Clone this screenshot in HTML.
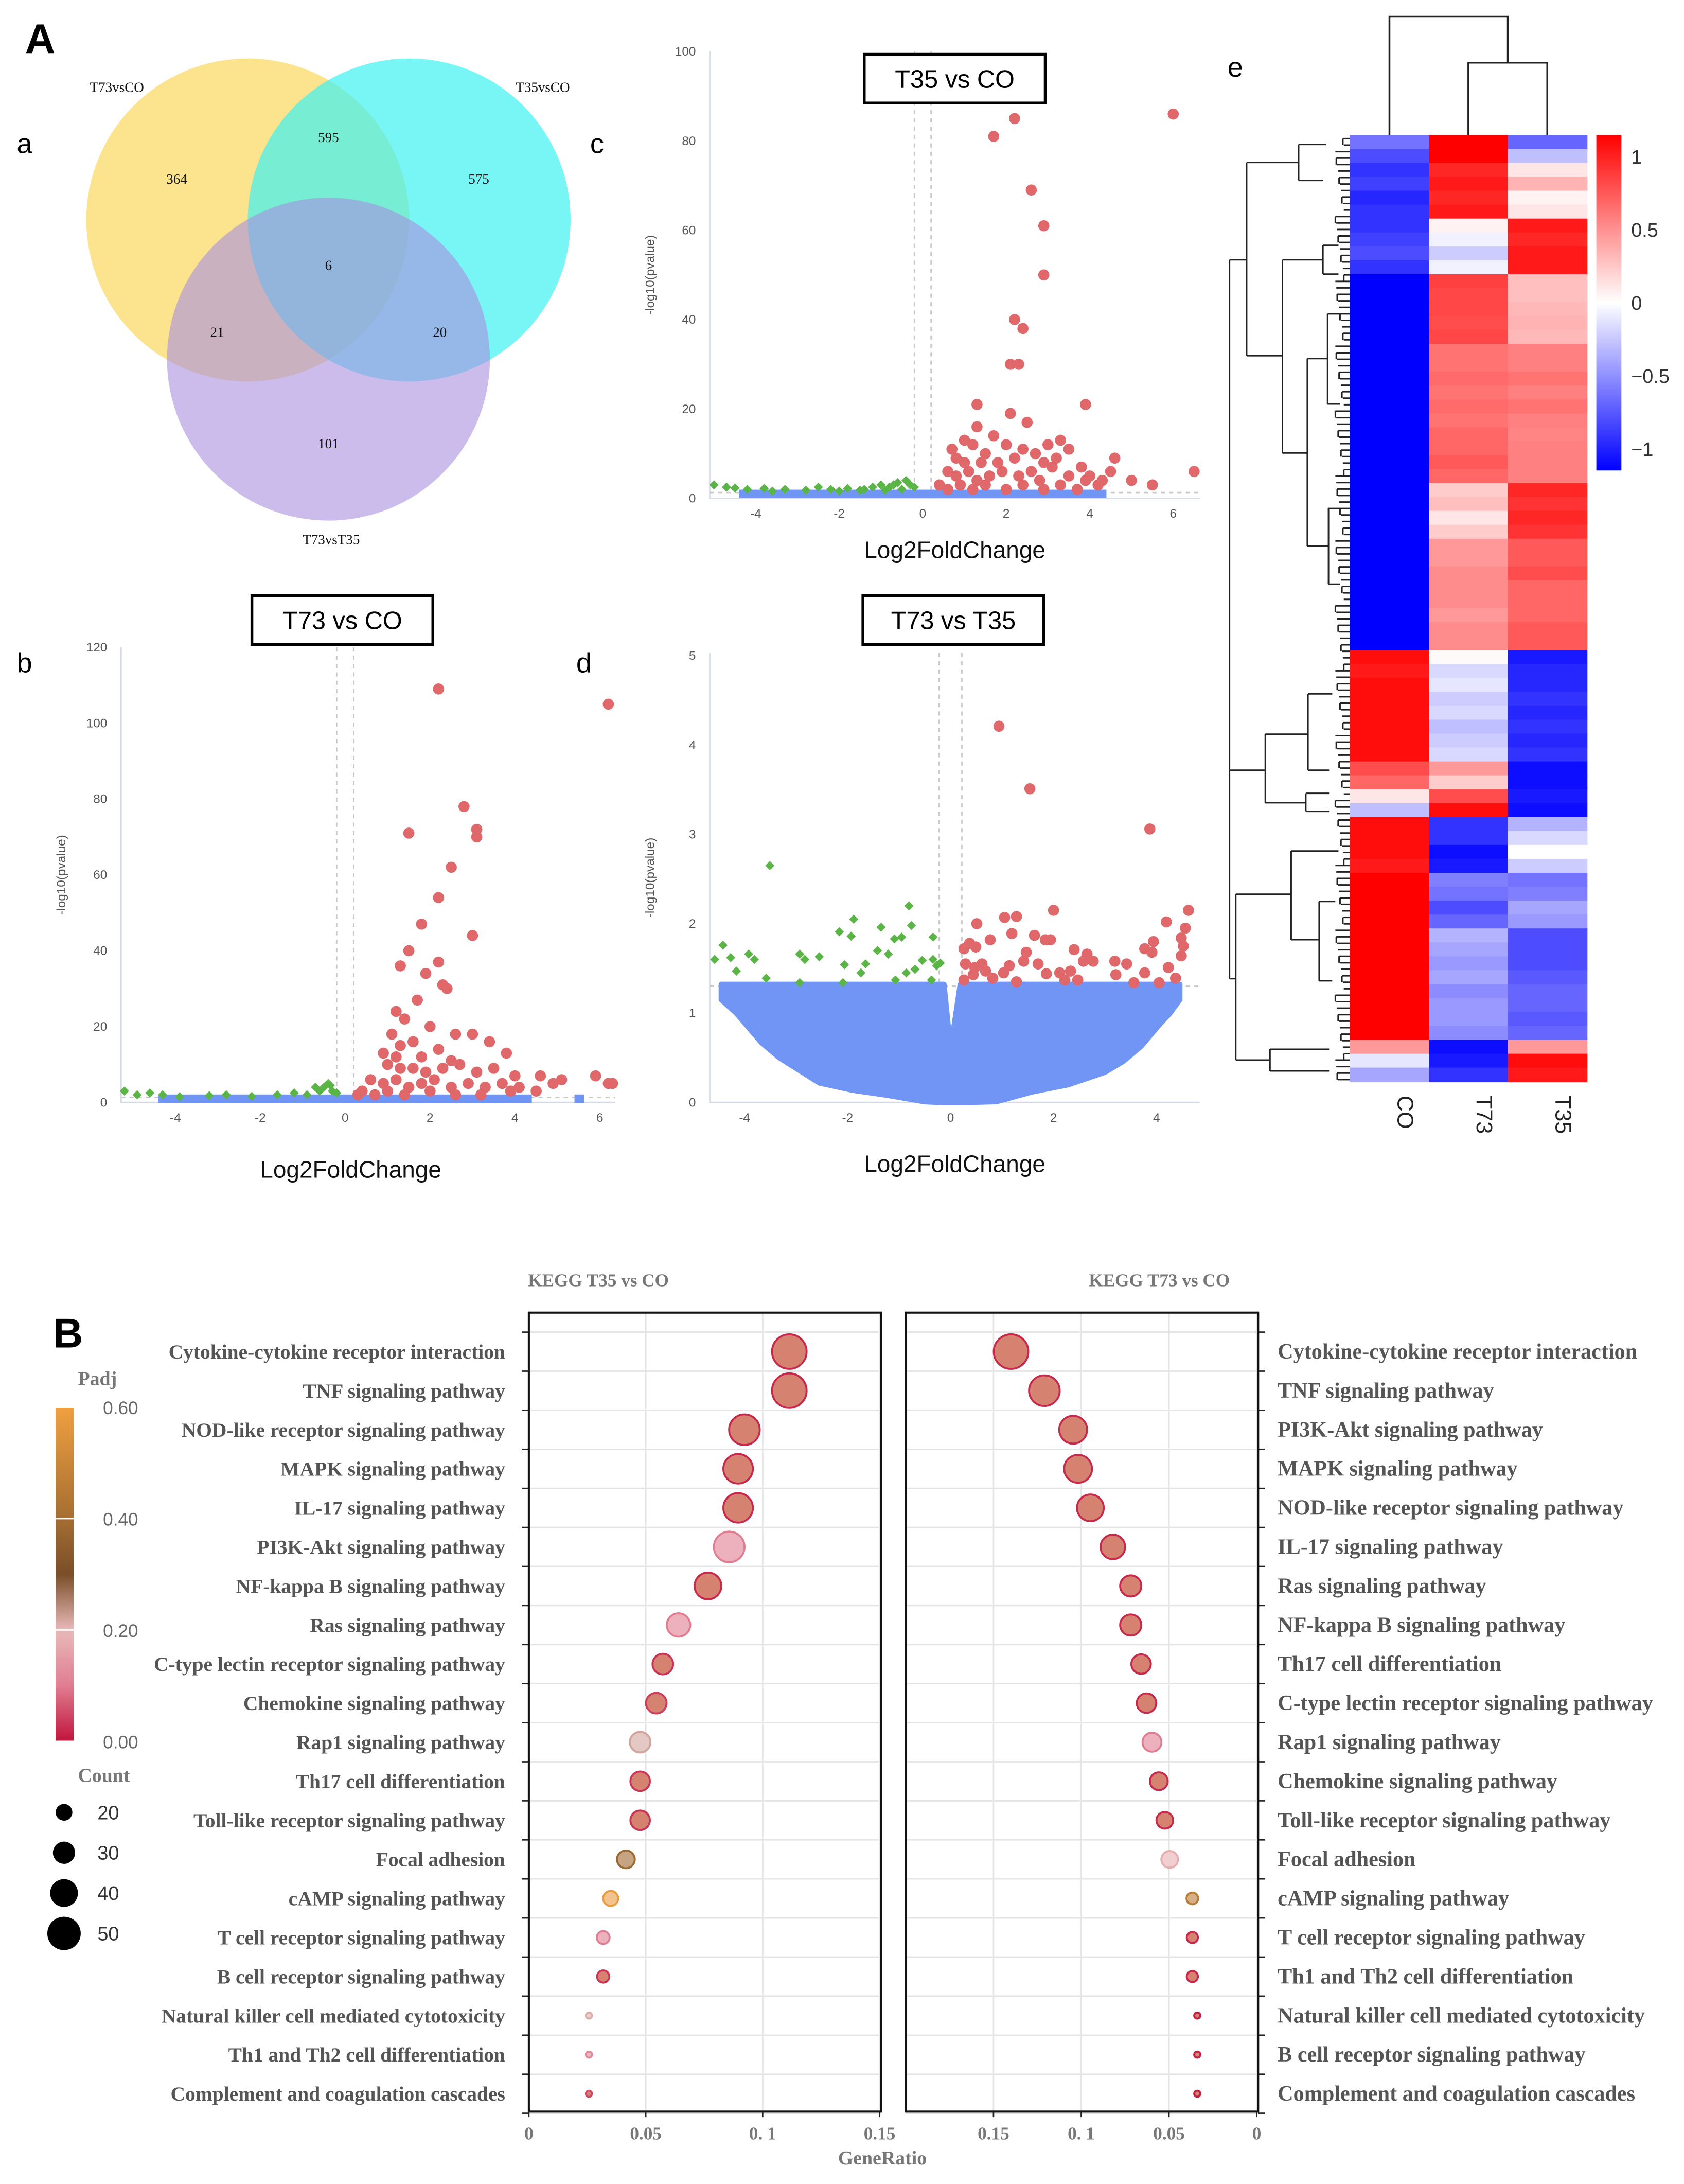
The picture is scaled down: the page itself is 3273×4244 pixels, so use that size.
<!DOCTYPE html>
<html><head><meta charset="utf-8"><style>
html,body{margin:0;padding:0;background:#fff}
svg{display:block}
.sans{font-family:"Liberation Sans",sans-serif}
.serif{font-family:"Liberation Serif",serif}
</style></head><body>
<svg id="fig" width="3273" height="4244" viewBox="0 0 1210 1569" preserveAspectRatio="none" xmlns="http://www.w3.org/2000/svg">
<rect width="1210" height="1569" fill="#fff"/>
<g class="sans" font-weight="bold" fill="#000">
<text x="18" y="38" font-size="30">A</text>
<text x="38" y="968" font-size="30">B</text>
</g>
<g class="sans" fill="#000" font-size="20">
<text x="12" y="110">a</text>
<text x="12" y="483">b</text>
<text x="424" y="110">c</text>
<text x="414" y="483">d</text>
<text x="882" y="55">e</text>
</g>
<!-- Venn -->
<g>
<circle cx="178" cy="158" r="116" fill="#fbd968" fill-opacity="0.75"/>
<circle cx="294" cy="158" r="116" fill="#3ff2f2" fill-opacity="0.7"/>
<circle cx="236" cy="258" r="116" fill="#a88fe0" fill-opacity="0.6"/>
<g class="serif" font-size="10" fill="#111" text-anchor="middle">
<text x="84" y="66">T73vsCO</text>
<text x="390" y="66">T35vsCO</text>
<text x="238" y="391">T73vsT35</text>
<text x="236" y="102">595</text>
<text x="127" y="132">364</text>
<text x="344" y="132">575</text>
<text x="236" y="194">6</text>
<text x="156" y="242">21</text>
<text x="316" y="242">20</text>
<text x="236" y="322">101</text>
</g></g>
<g id="volc"></g>
<g id="heat"></g>
<g id="kegg"></g>
</svg>
<script>
// ---------- Volcano data ----------
const cRedX=[6.0,1.7,2.2,2.6,2.9,2.9,2.2,2.4,2.1,2.3,1.3,3.9,2.5,2.1,1.0,1.2,1.5,0.8,1.0,1.4,1.8,2.2,2.7,3.0,3.3,3.5,1.7,0.6,0.8,1.1,1.3,1.6,1.9,2.3,2.6,2.8,3.1,3.5,3.9,4.2,4.6,4.5,5.0,5.5,6.5,0.4,0.6,0.9,1.2,1.5,2.0,2.4,2.9,3.3,3.7,4.0,4.3,0.7,1.3,2.0,2.4,2.9,3.2,3.8];
const cRedY=[86,81,85,69,61,50,40,38,30,30,21,21,17,19,13,12,10,9,8,8,8,9,10,12,13,11,14,6,5,6,4,5,6,5,6,4,7,5,4,3,9,6,4,3,6,3,2,3,2,3,2,3,2,3,2,5,4,11,16,12,11,8,9,7];
const cGreenX=[-5,-4.7,-4.5,-4.2,-3.8,-3.3,-2.8,-2.5,-2.2,-1.8,-1.5,-1.2,-1,-0.8,-0.6,-0.4,-0.3,-0.2,-0.5,-0.9,-1.4,-3.6,-2,-0.7];
const cGreenY=[3,2.5,2.3,2,2.2,2,1.8,2.5,2,2.2,1.8,2.5,3,2.5,3.5,4,3,2.5,2,1.8,2,1.6,1.6,3];
const cBlueRange=[-4.3,4.3];
const cBlueLevel=[1];

const bRedX=[2.2,6.2,2.8,3.1,3.1,1.5,2.5,2.2,1.8,1.5,1.3,2.2,1.9,2.3,2.4,3.0,1.2,1.4,1.1,1.3,0.9,1.6,1.8,2.2,2.6,3.0,3.4,3.8,1.0,1.3,1.6,1.9,2.3,2.7,3.1,3.5,4.0,0.6,0.9,1.2,1.5,1.8,2.1,2.5,2.9,3.3,3.7,4.1,4.5,4.9,5.1,4.6,5.9,6.2,6.3,0.4,0.7,1.0,1.4,2.0,2.6,3.2,3.9,0.3,1.2,2.0,2.5,1.7];
const bRedY=[109,105,78,72,70,71,62,54,47,40,36,37,34,31,30,44,24,22,18,15,13,16,12,14,18,18,16,13,10,9,9,8,9,10,8,9,7,6,5,6,4,5,6,4,5,4,5,4,3,5,6,7,7,5,5,3,2,3,2,3,2,2,3,2,12,20,11,27];
const bGreenX=[-5.2,-4.9,-4.6,-4.3,-3.9,-3.2,-2.8,-2.2,-1.6,-1.2,-0.9,-0.6,-0.5,-0.4,-0.3,-0.2,-0.7,-0.35];
const bGreenY=[3,2,2.5,2,1.5,1.8,2,1.6,2,2.5,2,3,4,5,3,2.5,4,4.5];
const bBlueRange=[-4.3,4.3];
const bBlueLevel=[1];
const bBlueExtraX=[5.5];
const bBlueExtraY=[1];

const dRedX=[0.94,1.54,3.87,2.0,4.19,0.51,1.05,1.28,1.19,1.63,1.84,1.94,0.77,0.37,0.49,0.26,0.29,0.47,0.61,0.44,0.26,0.68,0.82,1.03,1.14,1.28,1.42,1.47,1.7,1.86,2.12,2.22,2.33,2.4,2.47,2.58,2.65,2.77,3.19,3.21,3.42,3.56,3.77,3.77,3.91,3.94,4.05,4.23,4.37,4.48,4.48,4.62,4.56,4.52];
const dRedY=[4.21,3.51,3.06,2.15,2.02,2.0,2.07,2.08,1.89,1.87,1.82,1.82,1.82,1.78,1.74,1.72,1.55,1.51,1.55,1.43,1.37,1.47,1.39,1.45,1.53,1.35,1.58,1.68,1.55,1.44,1.45,1.37,1.47,1.71,1.37,1.58,1.66,1.58,1.58,1.43,1.55,1.34,1.45,1.72,1.68,1.8,1.34,1.51,1.39,1.84,1.64,2.15,1.95,1.75];
const dGreenX=[-3.51,-4.42,-4.58,-4.27,-4.16,-3.92,-3.81,-3.58,-2.93,-2.83,-2.55,-2.16,-1.88,-1.93,-2.06,-2.09,-1.35,-1.42,-1.21,-1.65,-1.74,-1.09,-0.95,-0.81,-0.76,-0.86,-0.69,-0.55,-0.34,-0.34,-0.27,-0.2,-0.37,-2.93,-1.07];
const dGreenY=[2.65,1.76,1.6,1.62,1.47,1.66,1.6,1.39,1.66,1.6,1.63,1.91,2.05,1.86,1.54,1.34,1.96,1.7,1.66,1.55,1.45,1.83,1.85,2.2,1.98,1.45,1.49,1.59,1.85,1.6,1.53,1.56,1.37,1.34,1.37];
const dBlueX=[-4.45,-4.16,-3.67,-3.32,-2.55,-1.92,-1.21,-0.51,-0.13,0,0.19,0.89,1.59,2.29,3.0,3.35,3.7,4.05,4.26,4.45];
const dBlueLow=[1.15,1.0,0.67,0.5,0.22,0.14,0.08,0.01,0,0,0,0.01,0.12,0.2,0.34,0.46,0.63,0.87,1.0,1.15];
const dBlueHigh=[1.32,1.32,1.32,1.32,1.32,1.32,1.32,1.32,1.32,0.58,1.32,1.32,1.32,1.32,1.32,1.32,1.32,1.32,1.32,1.32];

const cXTicks=[-4,-2,0,2,4,6];const cYTicks=[0,20,40,60,80,100];
const bXTicks=[-4,-2,0,2,4,6];const bYTicks=[0,20,40,60,80,100,120];
const dXTicks=[-4,-2,0,2,4];const dYTicks=[0,1,2,3,4,5];

// ---------- Heatmap data (rows top->bottom) ----------
const heatCO=[-0.55,-0.7,-0.8,-0.75,-0.85,-0.8,-0.8,-0.75,-0.7,-0.8,-1,-1,-1,-1,-1,-1,-1,-1,-1,-1,-1,-1,-1,-1,-1,-1,-1,-1,-1,-1,-1,-1,-1,-1,-1,-1,-1,0.95,0.9,0.95,0.95,0.95,0.95,0.95,0.95,0.7,0.6,0.1,-0.25,0.95,0.95,0.95,0.9,1,1,1,1,1,1,1,1,1,1,1,1,0.4,-0.1,-0.35];
const heatT73=[1,1,0.85,0.9,0.85,0.9,0.05,-0.05,-0.2,-0.05,0.75,0.72,0.72,0.7,0.72,0.55,0.55,0.58,0.55,0.58,0.55,0.6,0.6,0.65,0.6,0.2,0.25,0.1,0.2,0.4,0.4,0.45,0.45,0.45,0.4,0.45,0.45,0.02,-0.15,-0.1,-0.2,-0.15,-0.25,-0.2,-0.15,0.4,0.2,0.7,0.95,-0.8,-0.8,-0.95,-0.9,-0.5,-0.55,-0.7,-0.6,-0.3,-0.35,-0.4,-0.35,-0.45,-0.4,-0.4,-0.45,-0.95,-0.9,-0.8];
const heatT35=[-0.6,-0.25,0.1,0.3,0.05,0.1,0.9,0.85,0.9,0.9,0.25,0.25,0.28,0.3,0.28,0.5,0.5,0.55,0.5,0.55,0.5,0.48,0.5,0.5,0.5,0.85,0.8,0.85,0.8,0.65,0.65,0.7,0.6,0.6,0.6,0.65,0.65,-0.9,-0.85,-0.85,-0.8,-0.85,-0.8,-0.85,-0.8,-0.95,-0.95,-0.9,-0.95,-0.3,-0.15,0,-0.2,-0.55,-0.5,-0.35,-0.4,-0.7,-0.7,-0.7,-0.65,-0.6,-0.6,-0.65,-0.6,0.4,0.95,0.9];
const heatCols=["CO","T73","T35"];
const heatTicks=[1,0.5,0,-0.5,-1];
const heatTickLabels=["1","0.5","0","\u22120.5","\u22121"];

// ---------- KEGG data ----------
const leftPathways=["Cytokine-cytokine receptor interaction","TNF signaling pathway","NOD-like receptor signaling pathway","MAPK signaling pathway","IL-17 signaling pathway","PI3K-Akt signaling pathway","NF-kappa B signaling pathway","Ras signaling pathway","C-type lectin receptor signaling pathway","Chemokine signaling pathway","Rap1 signaling pathway","Th17 cell differentiation","Toll-like receptor signaling pathway","Focal adhesion","cAMP signaling pathway","T cell receptor signaling pathway","B cell receptor signaling pathway","Natural killer cell mediated cytotoxicity","Th1 and Th2 cell differentiation","Complement and coagulation cascades"];
const leftRatio=[0.1114,0.1114,0.0922,0.0895,0.0895,0.0857,0.0766,0.064,0.0573,0.0545,0.0476,0.0476,0.0476,0.0415,0.035,0.0318,0.0318,0.0257,0.0257,0.0257];
const leftCount=[52,52,45,43,43,45,38,32,27,27,27,25,25,22,17,13,12,1,1,1];
const leftPadj=[0.02,0.02,0.02,0.02,0.02,0.1,0.02,0.1,0.03,0.04,0.22,0.03,0.03,0.38,0.58,0.1,0.03,0.21,0.12,0.05];
const rightPathways=["Cytokine-cytokine receptor interaction","TNF signaling pathway","PI3K-Akt signaling pathway","MAPK signaling pathway","NOD-like receptor signaling pathway","IL-17 signaling pathway","Ras signaling pathway","NF-kappa B signaling pathway","Th17 cell differentiation","C-type lectin receptor signaling pathway","Rap1 signaling pathway","Chemokine signaling pathway","Toll-like receptor signaling pathway","Focal adhesion","cAMP signaling pathway","T cell receptor signaling pathway","Th1 and Th2 cell differentiation","Natural killer cell mediated cytotoxicity","B cell receptor signaling pathway","Complement and coagulation cascades"];
const rightRatio=[0.140,0.121,0.1046,0.1018,0.0948,0.082,0.0718,0.0718,0.0659,0.0628,0.0597,0.0558,0.0524,0.0496,0.0367,0.0367,0.0367,0.0339,0.0339,0.0339];
const rightCount=[52,45,40,40,38,34,28,28,25,25,24,22,20,20,11,10,10,1,1,1];
const rightPadj=[0.02,0.02,0.02,0.02,0.02,0.02,0.02,0.02,0.02,0.02,0.1,0.02,0.02,0.18,0.45,0.02,0.02,0.01,0.01,0.01];
const ratioTicks=[0,0.05,0.1,0.15];
const ratioTickLabels=["0","0.05","0. 1","0.15"];
const padjTicks=[0.6,0.4,0.2,0];
const padjTickLabels=["0.60","0.40","0.20","0.00"];
const countLegend=[20,30,40,50];

const NS="http://www.w3.org/2000/svg";
function mk(tag,attrs,parent){const e=document.createElementNS(NS,tag);for(const k in attrs)e.setAttribute(k,attrs[k]);if(parent)parent.appendChild(e);return e;}

// ---------- Volcano ----------
function volcano(cfg){
  const g=mk('g',{},document.getElementById('volc'));
  
  
  const X=v=>cfg.x0+v*cfg.kx, Y=v=>cfg.y0-v*cfg.ky;
  const ax=mk('path',{d:`M${cfg.left},${cfg.top}V${cfg.y0}H${cfg.right}`,stroke:'#d6dbe8','stroke-width':1,fill:'none'},g);
  
  
  cfg.xt.forEach(t=>{const e=mk('text',{x:X(t),y:cfg.y0+14,'font-size':9,fill:'#555','text-anchor':'middle',class:'sans'},g);e.textContent=t;
    
    });
  cfg.yt.forEach(t=>{const e=mk('text',{x:cfg.left-10,y:Y(t)+3,'font-size':9,fill:'#555','text-anchor':'end',class:'sans'},g);e.textContent=t;
    
    });
  [-cfg.fc,cfg.fc].forEach(v=>{const l=mk('line',{x1:X(v),x2:X(v),y1:cfg.top,y2:cfg.y0,stroke:'#c8c8c8','stroke-dasharray':'3,3','stroke-width':1},g);
    
    });
  const th=mk('line',{x1:cfg.left,x2:cfg.right,y1:Y(cfg.pth),y2:Y(cfg.pth),stroke:'#c8c8c8','stroke-dasharray':'3,3'},g);
  
  
  if(cfg.blueX){
    let d='M'+cfg.blueX.map((x,i)=>X(x)+','+Y(cfg.blueHigh[i])).join('L');
    for(let i=cfg.blueX.length-1;i>=0;i--)d+='L'+X(cfg.blueX[i])+','+Y(cfg.blueLow[i]);
    const p=mk('path',{d:d+'Z',fill:'#7095f5',stroke:'#7095f5','stroke-width':4,'stroke-linejoin':'round'},g);
    
    
  } else {
    const r=mk('rect',{x:X(cfg.blueRange[0])-3,y:Y(cfg.blueLevel[0])-3,width:X(cfg.blueRange[1])-X(cfg.blueRange[0])+6,height:6,fill:'#7095f5'},g);
    
    
    (cfg.bex||[]).forEach((x,i)=>{const s=mk('rect',{x:X(x)-3,y:Y(cfg.bey[i])-3,width:7,height:6,fill:'#7095f5'},g);
      
      });
  }
  cfg.gx.forEach((x,i)=>{const cx=X(x),cy=Y(cfg.gy[i]);
    const p=mk('path',{d:`M${cx},${cy-3.3}L${cx+3.3},${cy}L${cx},${cy+3.3}L${cx-3.3},${cy}Z`,fill:'#5ab546'},g);
    
    });
  cfg.rx.forEach((x,i)=>{const c=mk('circle',{cx:X(x),cy:Y(cfg.ry[i]),r:4,fill:'#e0676a'},g);
    
    });
  const yl=mk('text',{x:0,y:0,'font-size':9,fill:'#555','text-anchor':'middle',class:'sans',transform:`translate(${cfg.left-40},${(cfg.top+cfg.y0)/2}) rotate(-90)`},g);
  yl.textContent='-log10(pvalue)';
  
  
  const xl=mk('text',{x:cfg.xlx,y:cfg.xly,'font-size':17,fill:'#111','text-anchor':'middle',class:'sans'},g);
  xl.textContent='Log2FoldChange';
  
  
  const tb=mk('rect',{x:cfg.tb[0],y:cfg.tb[1],width:cfg.tb[2],height:cfg.tb[3],fill:'#fff',stroke:'#000','stroke-width':2},g);
  
  
  const tt=mk('text',{x:cfg.tb[0]+cfg.tb[2]/2,y:cfg.tb[1]+cfg.tb[3]/2+6.5,'font-size':18,fill:'#000','text-anchor':'middle',class:'sans'},g);
  tt.textContent=cfg.title;
  
  
}
volcano({name:'volcano-t35-vs-co',x0:663,kx:30,y0:358,ky:3.21,left:510,right:862,top:37,fc:0.2,pth:1.3,xt:cXTicks,yt:cYTicks,
  rx:cRedX,ry:cRedY,gx:cGreenX,gy:cGreenY,blueRange:cBlueRange,blueLevel:cBlueLevel,xlx:686,xly:401,tb:[621,39,130,35],title:'T35 vs CO'});
volcano({name:'volcano-t73-vs-co',x0:248,kx:30.5,y0:792,ky:2.725,left:87,right:442,top:465,fc:0.2,pth:1.3,xt:bXTicks,yt:bYTicks,
  rx:bRedX,ry:bRedY,gx:bGreenX,gy:bGreenY,blueRange:bBlueRange,blueLevel:bBlueLevel,bex:bBlueExtraX,bey:bBlueExtraY,xlx:252,xly:846,tb:[181,428,130,35],title:'T73 vs CO'});
volcano({name:'volcano-t73-vs-t35',x0:683,kx:37,y0:792,ky:64.2,left:510,right:862,top:469,fc:0.22,pth:1.3,xt:dXTicks,yt:dYTicks,
  rx:dRedX,ry:dRedY,gx:dGreenX,gy:dGreenY,blueX:dBlueX,blueLow:dBlueLow,blueHigh:dBlueHigh,xlx:686,xly:842,tb:[620,428,130,35],title:'T73 vs T35'});

// ---------- Heatmap ----------
(function(){
  const g=document.getElementById('heat');
  
  
  const L=970,T=97,W=56.7,H=680/heatCO.length;
  function col(v){v=Math.max(-1,Math.min(1,v));const a=Math.abs(v);const w=Math.round(255*(1-a));return v>=0?`rgb(255,${w},${w})`:`rgb(${w},${w},255)`;}
  [heatCO,heatT73,heatT35].forEach((arr,c)=>{arr.forEach((v,r)=>{
    const e=mk('rect',{x:L+c*W,y:T+r*H,width:W+0.5,height:H+0.5,fill:col(v)},g);
    
    });});
  heatCols.forEach((n,c)=>{const t=mk('text',{'font-size':16,fill:'#222',class:'sans',transform:`translate(${L+c*W+W/2+6},${787}) rotate(90)`},g);t.textContent=n;
    
    });
  const defs=mk('defs',{},g);const lg=mk('linearGradient',{id:'hb',x1:0,y1:0,x2:0,y2:1},defs);
  [['0','#ff0000'],['0.5','#ffffff'],['1','#0000ff']].forEach(s=>mk('stop',{offset:s[0],'stop-color':s[1]},lg));
  const cb=mk('rect',{x:1147,y:97,width:18,height:241,fill:'url(#hb)'},g);
  
  
  const cy=v=>217.5-v*105;
  heatTicks.forEach((v,i)=>{const t=mk('text',{x:1172,y:cy(v)+5,'font-size':14,fill:'#333',class:'sans'},g);t.textContent=heatTickLabels[i];
    
    });
  const cx=c=>L+c*W+W/2;
  const cd=mk('path',{d:`M${cx(1)},97V45H${cx(2)}V97M${(cx(1)+cx(2))/2},45V12H${cx(0)}V97`,stroke:'#222','stroke-width':1.3,fill:'none'},g);
  
  
  const zx=x=>970+(x-487)*0.2237, zy=y=>97+(y-187)*0.518;
  const segs=[['H',100,360,155],['V',155,225,493],['H',155,225,322],['V',322,200,250],['H',155,493,270],['V',270,360,628],['H',270,360,400],['V',400,340,380],['H',270,628,350],['V',350,497,757],['H',350,497,415],['V',415,435,560],['H',350,757,418],['V',418,705,810],
   ['V',100,360,1357],['H',100,1068,215],['V',215,1018,1113],['H',215,1018,352],['V',352,962,1068],['H',215,1113,345],['V',345,1100,1125],['H',100,1357,120],['V',120,1240,1470],['H',120,1240,298],['V',298,1180,1303],['H',298,1180,398],['H',298,1303,388],['V',388,1250,1360],['H',120,1470,230],['V',230,1455,1485],['H',230,1455,420],['H',230,1485,420],
   ['H',322,200,410],['H',322,250,400],['H',400,340,450],['H',400,380,450],['H',415,435,455],['H',415,560,455],['H',418,705,455],['H',418,810,455],['H',352,962,430],['H',352,1068,420],['H',345,1100,420],['H',345,1125,420],['H',398,1180,450],['H',388,1250,440],['H',388,1360,430]];
  let d='';segs.forEach(s=>{if(s[0]==='H')d+=`M${zx(s[1])},${zy(s[2])}H${zx(s[3])}`;else d+=`M${zx(s[1])},${zy(s[2])}V${zy(s[3])}`;});
  for(let y=192;y<1500;y+=9){d+=`M${zx(440+((y*7)%30))},${zy(y)}H${zx(487)}`;}
  for(let y=192;y<1500;y+=27){d+=`M${zx(440+((y*7)%30))},${zy(y)}V${zy(y+9)}`;}
  const rd=mk('path',{d:d,stroke:'#222','stroke-width':1.1,fill:'none'},g);
  
  
})();

// ---------- KEGG ----------
(function(){
  const g=document.getElementById('kegg');
  
  
  const stops=[[0,[192,20,60]],[0.1,[225,125,145]],[0.2,[232,185,185]],[0.3,[122,78,40]],[0.4,[165,110,50]],[0.6,[240,160,64]]];
  function pc(p){for(let i=1;i<stops.length;i++){if(p<=stops[i][0]){const a=stops[i-1],b=stops[i],t=(p-a[0])/(b[0]-a[0]);return a[1].map((v,k)=>Math.round(v+(b[1][k]-v)*t));}}return stops[stops.length-1][1];}
  const rgb=a=>`rgb(${a[0]},${a[1]},${a[2]})`;
  const fillOf=p=>{const c=pc(p);
    if(p<=0.06)return 'rgb(213,130,112)';
    return rgb(c.map(v=>Math.round(v*0.6+255*0.4)));};
  const rad=c=>2+c/5;
  const rowY=i=>971+i*28.06;
  const top=943,bot=1517;
  function panel(name,L,R,X,paths,ratio,count,padj,labelX,anchor,fs,tickSide){
    const pg=mk('g',{},g);
    
    
    ratioTicks.forEach(t=>{const l=mk('line',{x1:X(t),x2:X(t),y1:top,y2:bot,stroke:'#e4e4e4'},pg);
      
      });
    for(let i=0;i<=paths.length;i++){const y=rowY(i)-14;const l=mk('line',{x1:L,x2:R,y1:y,y2:y,stroke:'#e4e4e4'},pg);
      
      
      const tk=mk('line',{x1:tickSide,x2:tickSide+(tickSide===L?-5:5),y1:y,y2:y,stroke:'#222'},pg);
      
      }
    const fr=mk('rect',{x:L,y:top,width:R-L,height:bot-top,fill:'none',stroke:'#111','stroke-width':1.5},pg);
    
    
    paths.forEach((p,i)=>{
      const t=mk('text',{x:labelX,y:rowY(i)+5,'font-size':fs,'font-weight':'bold',fill:'#555','text-anchor':anchor,class:'serif'},pg);t.textContent=p;
      
      
      const c=mk('circle',{cx:X(ratio[i]),cy:rowY(i),r:rad(count[i]),fill:fillOf(padj[i]),stroke:rgb(pc(padj[i])),'stroke-width':1.4},pg);
      
      });
    ratioTicks.forEach((t,i)=>{const l=mk('line',{x1:X(t),x2:X(t),y1:bot,y2:bot+4,stroke:'#222'},pg);
      
      
      const e=mk('text',{x:X(t),y:1537,'font-size':13,'font-weight':'bold',fill:'#777','text-anchor':'middle',class:'serif'},pg);e.textContent=ratioTickLabels[i];
      
      });
  }
  const XL=v=>380+v*1680, XR=v=>903-v*1261;
  panel('kegg-t35-vs-co-panel',380,633,XL,leftPathways,leftRatio,leftCount,leftPadj,363,'end',14.6,380);
  panel('kegg-t73-vs-co-panel',651,904,XR,rightPathways,rightRatio,rightCount,rightPadj,918,'start',15.6,904);
  const tl=[[430,'KEGG T35 vs CO','kegg-left-title'],[833,'KEGG T73 vs CO','kegg-right-title']];
  tl.forEach(a=>{const t=mk('text',{x:a[0],y:924,'font-size':13,'font-weight':'bold',fill:'#777','text-anchor':'middle',class:'serif'},g);t.textContent=a[1];
    
    });
  const gr=mk('text',{x:634,y:1555,'font-size':14,'font-weight':'bold',fill:'#777','text-anchor':'middle',class:'serif'},g);gr.textContent='GeneRatio';
  
  
  const defs=mk('defs',{},g);const lg=mk('linearGradient',{id:'pg',x1:0,y1:0,x2:0,y2:1},defs);
  stops.slice().reverse().forEach(s=>mk('stop',{offset:1-s[0]/0.6,'stop-color':rgb(s[1])},lg));
  const pt=mk('text',{x:56,y:995,'font-size':14,'font-weight':'bold',fill:'#777',class:'serif'},g);pt.textContent='Padj';
  
  
  const bar=mk('rect',{x:40,y:1011,width:13,height:240,fill:'url(#pg)'},g);
  
  
  const py=v=>1251-v/0.6*240;
  padjTicks.forEach((v,i)=>{mk('line',{x1:40,x2:53,y1:py(v),y2:py(v),stroke:'#fff','stroke-width':1},g);
    const t=mk('text',{x:74,y:py(v)+5,'font-size':13,fill:'#666',class:'sans'},g);t.textContent=padjTickLabels[i];
    
    });
  const ct=mk('text',{x:56,y:1280,'font-size':14,'font-weight':'bold',fill:'#777',class:'serif'},g);ct.textContent='Count';
  
  
  countLegend.forEach((c,i)=>{const y=1302+i*29;
    const ci=mk('circle',{cx:46,cy:y,r:rad(c),fill:'#000'},g);
    
    
    const t=mk('text',{x:70,y:y+5,'font-size':14,fill:'#333',class:'sans'},g);t.textContent=c;
    
    });
})();
</script>
</body></html>
